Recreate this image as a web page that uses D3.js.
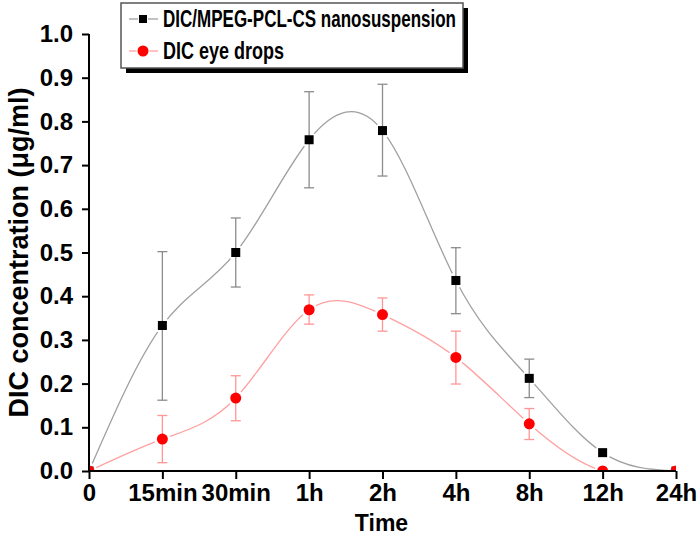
<!DOCTYPE html>
<html>
<head>
<meta charset="utf-8">
<script src="https://cdn.jsdelivr.net/npm/d3@7"></script>
<style>
  html, body { margin: 0; padding: 0; background: #fff; }
  svg text { font-family: Arial, "Liberation Sans", sans-serif; font-weight: bold; }
</style>
</head>
<body>
<svg id="chart" width="700" height="539"></svg>
<script>
const categories = ["0", "15min", "30min", "1h", "2h", "4h", "8h", "12h", "24h"];
const nanoValues = [0, 0.333, 0.50, 0.758, 0.779, 0.436, 0.212, 0.042, 0];
const nanoErrLow = [0, 0.162, 0.421, 0.648, 0.675, 0.360, 0.168, 0.042, 0];
const nanoErrHigh = [0, 0.502, 0.579, 0.868, 0.885, 0.511, 0.256, 0.042, 0];
const dropValues = [0, 0.073, 0.167, 0.369, 0.358, 0.260, 0.108, 0, 0];
const dropErrLow = [0, 0.019, 0.115, 0.336, 0.320, 0.199, 0.072, 0, 0];
const dropErrHigh = [0, 0.127, 0.218, 0.403, 0.396, 0.320, 0.143, 0, 0];
const yTicks = [0, 0.1, 0.2, 0.3, 0.4, 0.5, 0.6, 0.7, 0.8, 0.9, 1.0];
const seriesNames = ["DIC/MPEG-PCL-CS nanosuspension", "DIC eye drops"];

const svg = d3.select("#chart");
const L = 89, R = 676, T = 34, B = 471;
const FONT = "Arial, 'Liberation Sans', sans-serif";

const x = d3.scalePoint().domain(categories).range([L, R]);
const y = d3.scaleLinear().domain([0, 1]).range([B, T]);

svg.append("defs").append("clipPath").attr("id", "plotclip")
  .append("rect").attr("x", L).attr("y", T - 20).attr("width", R - L).attr("height", B - T + 20);

const series = [
  { name: seriesNames[0], vals: nanoValues, lo: nanoErrLow, hi: nanoErrHigh,
    line: "#a0a0a0", err: "#8c8c8c", fill: "#000", shape: "square", textLen: 293 },
  { name: seriesNames[1], vals: dropValues, lo: dropErrLow, hi: dropErrHigh,
    line: "#ffa0a0", err: "#ff9696", fill: "#ff0000", shape: "circle", textLen: 121 }
];

const plot = svg.append("g").attr("clip-path", "url(#plotclip)");

const lineGen = d3.line().x((d, i) => x(categories[i])).y(d => y(d)).curve(d3.curveNatural);

series.forEach(s => {
  const g = plot.append("g");
  g.append("path").datum(s.vals).attr("d", lineGen)
    .attr("fill", "none").attr("stroke", s.line).attr("stroke-width", 1.3);
  g.selectAll("circle.gap").data(s.vals).join("circle")
    .attr("cx", (d, i) => x(categories[i])).attr("cy", d => y(d)).attr("r", 8).attr("fill", "#fff");
});

series.forEach(s => {
  const g = plot.append("g");
  const idx = d3.range(categories.length).filter(i => s.hi[i] - s.lo[i] > 0.005);
  idx.forEach(i => {
    const cx = x(categories[i]);
    g.append("line").attr("x1", cx).attr("x2", cx).attr("y1", y(s.lo[i])).attr("y2", y(s.hi[i]))
      .attr("stroke", s.err).attr("stroke-width", 1.3);
    [s.lo[i], s.hi[i]].forEach(v => {
      g.append("line").attr("x1", cx - 5).attr("x2", cx + 5).attr("y1", y(v)).attr("y2", y(v))
        .attr("stroke", s.err).attr("stroke-width", 1.3);
    });
  });
});

series.forEach(s => {
  const g = plot.append("g");
  if (s.shape === "square") {
    g.selectAll("rect").data(s.vals).join("rect")
      .attr("x", (d, i) => x(categories[i]) - 4.5).attr("y", d => y(d) - 4.5)
      .attr("width", 9).attr("height", 9).attr("fill", s.fill);
  } else {
    g.selectAll("circle").data(s.vals).join("circle")
      .attr("cx", (d, i) => x(categories[i])).attr("cy", d => y(d)).attr("r", 5.5).attr("fill", s.fill);
  }
});

// axes
const xAxis = svg.append("g").attr("transform", `translate(0,${B})`)
  .call(d3.axisBottom(x).tickSize(8).tickPadding(5));
const yAxis = svg.append("g").attr("transform", `translate(${L},0)`)
  .call(d3.axisLeft(y).tickValues(yTicks).tickFormat(d3.format(".1f")).tickSize(7).tickPadding(9));
[xAxis, yAxis].forEach(a => {
  a.select(".domain").attr("stroke", "#000").attr("stroke-width", 2);
  a.selectAll(".tick line").attr("stroke", "#000").attr("stroke-width", 2);
  a.selectAll(".tick text").attr("fill", "#000").style("font-size", "24px").style("font-weight", "bold")
    .style("font-family", FONT);
});
xAxis.select(".domain").attr("d", `M${L},0H${R}`);
yAxis.select(".domain").attr("d", `M0,${B}V${T}`);

svg.append("text").attr("x", (L + R) / 2 - 1).attr("y", 531).attr("text-anchor", "middle")
  .style("font-size", "23px").text("Time");
svg.append("text").attr("transform", `translate(28,${(T + B) / 2}) rotate(-90)`)
  .attr("text-anchor", "middle").style("font-size", "27px").text("DIC concentration (\u03bcg/ml)");

// legend
const lg = svg.append("g");
const lx = 121, ly = 3, lw = 342, lh = 65;
lg.append("rect").attr("x", lx + 5).attr("y", ly + 5).attr("width", lw).attr("height", lh).attr("fill", "#000");
lg.append("rect").attr("x", lx).attr("y", ly).attr("width", lw).attr("height", lh)
  .attr("fill", "#fff").attr("stroke", "#555").attr("stroke-width", 1.5);
series.forEach((s, k) => {
  const cy = ly + 16 + k * 32;
  lg.append("line").attr("x1", lx + 8).attr("x2", lx + 37).attr("y1", cy).attr("y2", cy)
    .attr("stroke", s.line).attr("stroke-width", 1.3);
  if (s.shape === "square") {
    lg.append("rect").attr("x", lx + 22 - 5).attr("y", cy - 5).attr("width", 10).attr("height", 10).attr("fill", "#fff");
    lg.append("rect").attr("x", lx + 22 - 4).attr("y", cy - 4).attr("width", 8).attr("height", 8).attr("fill", s.fill);
  } else {
    lg.append("circle").attr("cx", lx + 22).attr("cy", cy).attr("r", 6.5).attr("fill", "#fff");
    lg.append("circle").attr("cx", lx + 22).attr("cy", cy).attr("r", 5.5).attr("fill", s.fill);
  }
  lg.append("text").attr("x", lx + 42).attr("y", cy + 8).style("font-size", "23px")
    .attr("textLength", s.textLen).attr("lengthAdjust", "spacingAndGlyphs").text(s.name);
});
</script>
</body>
</html>
